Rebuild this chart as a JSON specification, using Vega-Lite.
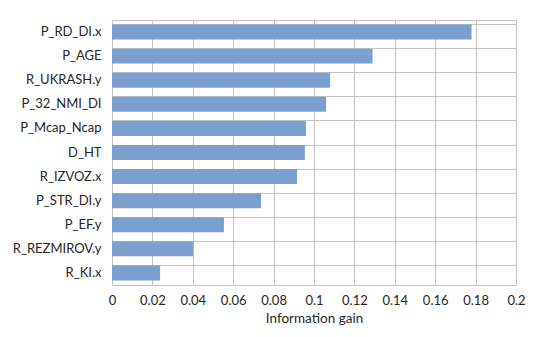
{
  "$schema": "https://vega.github.io/schema/vega-lite/v6.json",
  "width": 404,
  "height": 265,
  "autosize": {"type": "none"},
  "padding": {"left": 112, "top": 20, "right": 34, "bottom": 52},
  "background": "white",
  "data": {
    "values": [
      {"feature": "P_RD_DI.x", "gain": 0.178},
      {"feature": "P_AGE", "gain": 0.129},
      {"feature": "R_UKRASH.y", "gain": 0.108},
      {"feature": "P_32_NMI_DI", "gain": 0.106},
      {"feature": "P_Mcap_Ncap", "gain": 0.096},
      {"feature": "D_HT", "gain": 0.0955},
      {"feature": "R_IZVOZ.x", "gain": 0.0916},
      {"feature": "P_STR_DI.y", "gain": 0.0738},
      {"feature": "P_EF.y", "gain": 0.0554},
      {"feature": "R_REZMIROV.y", "gain": 0.0402},
      {"feature": "R_KI.x", "gain": 0.0238}
    ]
  },
  "mark": {"type": "bar", "color": "#7ba0cf"},
  "encoding": {
    "y": {
      "field": "feature",
      "type": "nominal",
      "sort": null,
      "scale": {"paddingInner": 0.38, "paddingOuter": 0.19},
      "axis": {
        "title": null,
        "domain": false,
        "ticks": false,
        "grid": true,
        "bandPosition": 0,
        "gridColor": "#c4c4c4",
        "labelPadding": 11,
        "labelFont": "Lato",
        "labelFontSize": 13,
        "labelColor": "#262626"
      }
    },
    "x": {
      "field": "gain",
      "type": "quantitative",
      "scale": {"domain": [0, 0.2], "nice": false},
      "axis": {
        "values": [0, 0.02, 0.04, 0.06, 0.08, 0.1, 0.12, 0.14, 0.16, 0.18, 0.2],
        "format": "~g",
        "labelFlush": false,
        "title": "Information gain",
        "titleFont": "Lato",
        "titleFontSize": 13.5,
        "titleFontWeight": "normal",
        "titleColor": "#262626",
        "titlePadding": 4,
        "domain": false,
        "ticks": false,
        "gridColor": "#c4c4c4",
        "labelPadding": 9,
        "labelFont": "Lato",
        "labelFontSize": 13,
        "labelColor": "#262626"
      }
    }
  },
  "config": {"view": {"stroke": "#c4c4c4"}}
}
